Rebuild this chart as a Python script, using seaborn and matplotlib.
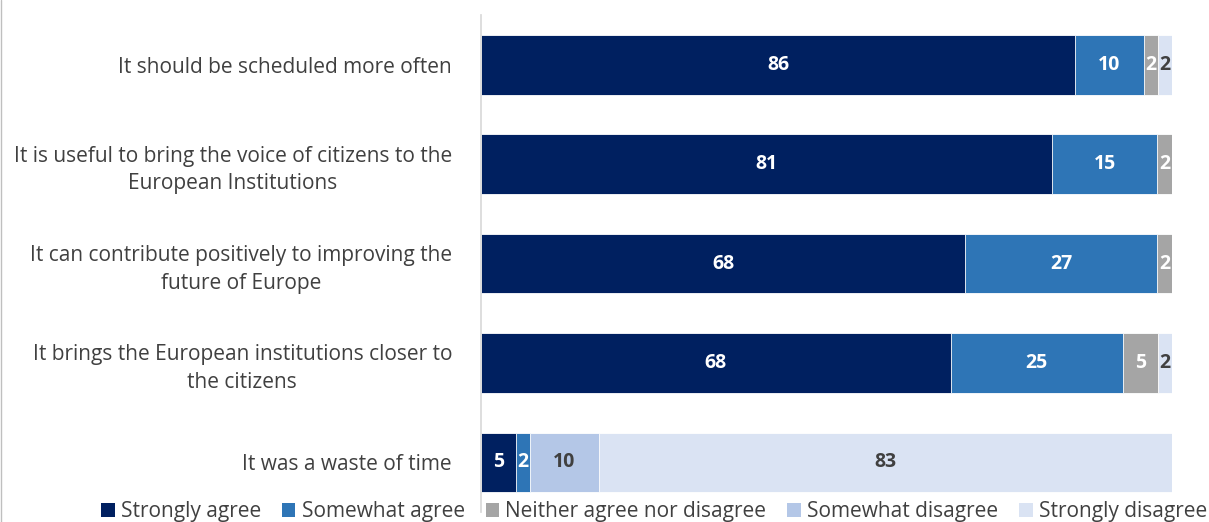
import pandas as pd
import seaborn as sns
import matplotlib.pyplot as plt
from matplotlib.patches import Patch
from matplotlib.lines import Line2D

# data (rounded percentages, bars drawn as 100% stacks)
statements = [
    "It should be scheduled more often",
    "It is useful to bring the voice of citizens to the\nEuropean Institutions",
    "It can contribute positively to improving the\nfuture of Europe",
    "It brings the European institutions closer to\nthe citizens",
    "It was a waste of time",
]
strongly_agree = [86, 81, 68, 68, 5]
somewhat_agree = [10, 15, 27, 25, 2]
neither = [2, 2, 2, 5, 0]
somewhat_disagree = [0, 0, 0, 0, 10]
strongly_disagree = [2, 0, 0, 2, 83]

categories = ["Strongly agree", "Somewhat agree", "Neither agree nor disagree",
              "Somewhat disagree", "Strongly disagree"]
colors = ["#002060", "#2E75B6", "#A5A5A5", "#B4C7E7", "#DAE3F3"]
text_colors = ["white", "white", "white", "#404040", "#404040"]

sns.set_theme(style="white")
plt.rcParams['font.family'] = ['Open Sans', 'DejaVu Sans']

df = pd.DataFrame({
    categories[0]: strongly_agree,
    categories[1]: somewhat_agree,
    categories[2]: neither,
    categories[3]: somewhat_disagree,
    categories[4]: strongly_disagree,
}, index=statements)
share = df.div(df.sum(axis=1), axis=0) * 100
cum = share.cumsum(axis=1)

fig = plt.figure(figsize=(12.09, 5.22), dpi=100)
ax = fig.add_axes([0.398, 0.019, 0.571, 0.952])

# stacked bars: draw cumulative totals from the right-most segment down
for cat, col in reversed(list(zip(categories, colors))):
    sns.barplot(x=cum[cat].values, y=statements, color=col, orient="h",
                width=0.6, saturation=1, edgecolor="white", linewidth=0.6, ax=ax)

# value labels
for i, st in enumerate(statements):
    for cat, tc in zip(categories, text_colors):
        v = df.loc[st, cat]
        if v > 0:
            xc = cum.loc[st, cat] - share.loc[st, cat] / 2
            ax.text(xc, i, str(v), ha="center", va="center", color=tc,
                    fontsize=14, fontweight="bold")

ax.set_xlim(0, 100)
ax.set_ylim(len(statements) - 0.5, -0.5)
ax.set_xticks([])
ax.set_xlabel("")
ax.set_ylabel("")
ax.tick_params(axis="y", length=0, pad=21, labelsize=15, labelcolor="#404040")
for lbl in ax.get_yticklabels():
    lbl.set_multialignment("center")
    lbl.set_linespacing(1.4)
for s in ["top", "right", "bottom"]:
    ax.spines[s].set_visible(False)
ax.spines["left"].set_color("#D9D9D9")

handles = [Patch(facecolor=c, edgecolor="none") for c in colors]
fig.legend(handles, categories, loc="center", bbox_to_anchor=(0.541, 0.02),
           ncol=5, frameon=False, fontsize=15, handlelength=0.65, handleheight=0.65,
           handletextpad=0.3, columnspacing=1.0, borderaxespad=0, labelcolor="#404040")

fig.add_artist(Line2D([0.001, 0.001], [0, 1], color="#BFBFBF", lw=1,
                      transform=fig.transFigure))

fig.savefig("out.png", dpi=100)
